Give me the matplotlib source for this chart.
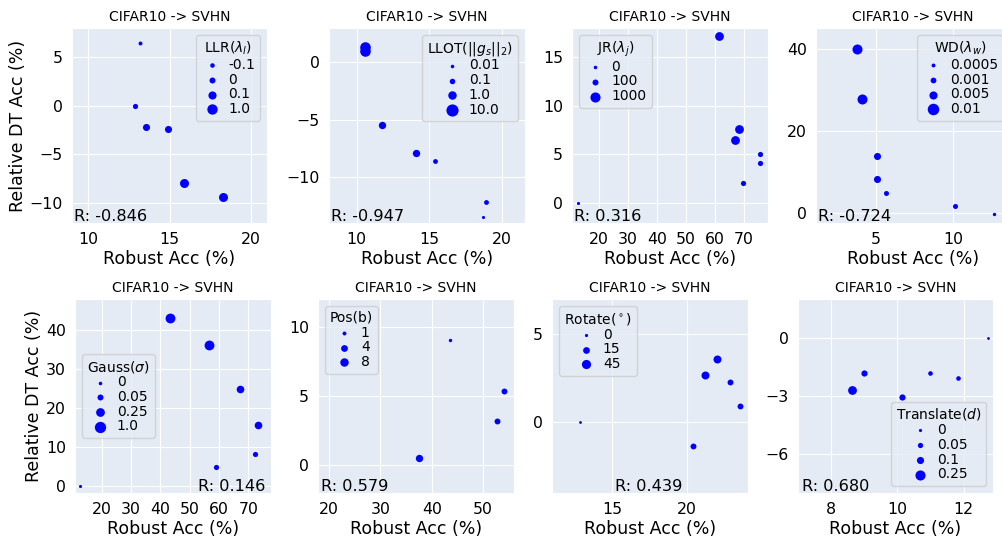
import matplotlib
matplotlib.use("Agg")
import matplotlib.pyplot as plt
import seaborn as sns

sns.set_style("darkgrid", {"axes.facecolor": "#E5EBF5"})
plt.rcParams["font.family"] = ["DejaVu Sans"]
plt.rcParams["text.color"] = "black"
plt.rcParams["axes.labelcolor"] = "black"
plt.rcParams["xtick.color"] = "black"
plt.rcParams["ytick.color"] = "black"

TITLE = "CIFAR10 -> SVHN"
XLABEL = "Robust Acc (%)"
YLABEL = "Relative DT Acc (%)"

# ─── data ──────────────────────────────────────────────────────────────────
LLR_X = [13.17, 12.85, 13.56, 14.93, 15.91, 18.30]
LLR_Y = [6.46, 0.0, -2.16, -2.37, -7.97, -9.45]
LLR_V = [-0.1, 0, 0.1, 0.1, 1.0, 1.0]
LLR_LEVELS = [-0.1, 0, 0.1, 1.0]
LLR_LABELS = ["-0.1", "0", "0.1", "1.0"]

LLOT_X = [10.60, 10.60, 11.76, 14.07, 15.42, 18.90, 18.72]
LLOT_Y = [1.30, 1.00, -5.45, -7.87, -8.57, -12.20, -13.50]
LLOT_V = [10.0, 10.0, 1.0, 1.0, 0.1, 0.1, 0.01]
LLOT_LEVELS = [0.01, 0.1, 1.0, 10.0]
LLOT_LABELS = ["0.01", "0.1", "1.0", "10.0"]

JR_X = [12.9, 61.3, 67.0, 68.3, 69.7, 75.5, 75.5]
JR_Y = [0.0, 17.13, 6.49, 7.59, 2.03, 4.98, 4.05]
JR_V = [0, 1000, 1000, 1000, 100, 100, 100]
JR_LEVELS = [0, 100, 1000]
JR_LABELS = ["0", "100", "1000"]

WD_X = [3.74, 4.11, 5.04, 5.07, 5.61, 10.15, 12.65]
WD_Y = [40.0, 27.75, 13.96, 8.24, 4.90, 1.71, -0.24]
WD_V = [0.01, 0.01, 0.005, 0.005, 0.001, 0.001, 0.0005]
WD_LEVELS = [0.0005, 0.001, 0.005, 0.01]
WD_LABELS = ["0.0005", "0.001", "0.005", "0.01"]

GAUSS_X = [12.6, 43.2, 56.7, 67.0, 73.4, 72.3, 58.9]
GAUSS_Y = [0.0, 43.09, 36.3, 24.8, 15.6, 8.15, 4.7]
GAUSS_V = [0, 1.0, 1.0, 0.25, 0.25, 0.05, 0.05]
GAUSS_LEVELS = [0, 0.05, 0.25, 1.0]
GAUSS_LABELS = ["0", "0.05", "0.25", "1.0"]

POS_X = [43.6, 54.0, 52.6, 37.6]
POS_Y = [9.06, 5.38, 3.17, 0.55]
POS_V = [1, 4, 4, 8]
POS_LEVELS = [1, 4, 8]
POS_LABELS = ["1", "4", "8"]

ROT_X = [12.84, 20.42, 21.20, 22.00, 22.90, 23.56]
ROT_Y = [0.0, -1.35, 2.71, 3.59, 2.31, 0.92]
ROT_V = [0, 15, 45, 45, 15, 15]
ROT_LEVELS = [0, 15, 45]
ROT_LABELS = ["0", "15", "45"]

TR_X = [12.73, 11.83, 10.98, 10.15, 9.00, 8.64]
TR_Y = [0.0, -2.09, -1.81, -3.03, -1.81, -2.67]
TR_V = [0, 0.05, 0.05, 0.1, 0.1, 0.25]
TR_LEVELS = [0, 0.05, 0.1, 0.25]
TR_LABELS = ["0", "0.05", "0.1", "0.25"]

R_VALUES = ["-0.846", "-0.947", "0.316", "-0.724", "0.146", "0.579", "0.439", "0.680"]

COLOR_PT = "#0000ff"
W, H = 1002, 538


def px_axes(fig, left, top, right, bottom):
    return fig.add_axes([left / W, (H - bottom) / H, (right - left) / W, (bottom - top) / H])


def draw_panel(ax, xs, ys, vals, levels, labels, areas, leg_title, leg_loc,
               r_text, r_pos, xlim, ylim, xticks, yticks, ylabel=False):
    for lv, lab, a in zip(levels, labels, areas):
        px = [x for x, v in zip(xs, vals) if v == lv]
        py = [y for y, v in zip(ys, vals) if v == lv]
        ax.scatter(px, py, s=a, color=COLOR_PT, linewidths=0, label=lab, zorder=3)
    ax.set_xlim(*xlim); ax.set_ylim(*ylim)
    ax.set_xticks(xticks); ax.set_yticks(yticks)
    ax.tick_params(labelsize=11.3, pad=3)
    ax.set_title(TITLE, fontsize=10, pad=5)
    ax.set_xlabel(XLABEL, fontsize=12.5, labelpad=2)
    if ylabel:
        ax.set_ylabel(YLABEL, fontsize=12.5, labelpad=2)
    leg = ax.legend(title=leg_title, loc=leg_loc, fontsize=10, title_fontsize=10,
                    labelspacing=0.05, handlelength=1.6, handletextpad=0.4,
                    borderpad=0.35, borderaxespad=0.5, markerscale=1.15)
    leg.set_zorder(5)
    ax.text(r_pos[0], r_pos[1], "R: " + r_text, transform=ax.transAxes,
            ha="left", va="baseline", fontsize=11.6, zorder=4)


fig = plt.figure(figsize=(W / 100, H / 100), dpi=100)

# ─── row 1 ────────────────────────────────────────────────────────────────
ax = px_axes(fig, 72, 28, 267, 223)
draw_panel(ax, LLR_X, LLR_Y, LLR_V, LLR_LEVELS, LLR_LABELS, [8, 14, 26, 42],
           r"LLR($\lambda_l$)", "upper right", R_VALUES[0], (0.012, 0.012),
           (9, 21), (-12.1, 8.0), [10, 15, 20], [-10, -5, 0, 5], ylabel=True)

ax = px_axes(fig, 329, 28, 525, 223)
draw_panel(ax, LLOT_X, LLOT_Y, LLOT_V, LLOT_LEVELS, LLOT_LABELS, [5, 12, 28, 58],
           r"LLOT($||g_s||_2$)", "upper right", R_VALUES[1], (0.012, 0.012),
           (8.1, 21.6), (-14.0, 3.0), [10, 15, 20], [-10, -5, 0])

ax = px_axes(fig, 572, 28, 768, 223)
draw_panel(ax, JR_X, JR_Y, JR_V, JR_LEVELS, JR_LABELS, [5, 14, 40],
           r"JR($\lambda_j$)", "upper left", R_VALUES[2], (0.012, 0.012),
           (10.8, 78.2), (-2.1, 18.0), [20, 30, 40, 50, 60, 70], [0, 5, 10, 15])

ax = px_axes(fig, 816, 28, 1010, 223)
draw_panel(ax, WD_X, WD_Y, WD_V, WD_LEVELS, WD_LABELS, [6, 13, 26, 52],
           r"WD($\lambda_w$)", "upper right", R_VALUES[3], (0.012, 0.012),
           (1.09, 13.7), (-2.45, 45.2), [5, 10], [0, 20, 40])

# ─── row 2 ────────────────────────────────────────────────────────────────
ax = px_axes(fig, 75, 299, 271, 493)
draw_panel(ax, GAUSS_X, GAUSS_Y, GAUSS_V, GAUSS_LEVELS, GAUSS_LABELS, [5, 14, 30, 50],
           r"Gauss($\sigma$)", "center left", R_VALUES[4], (0.628, 0.012),
           (10.9, 77.7), (-1.9, 48.1), [20, 30, 40, 50, 60, 70], [0, 10, 20, 30, 40],
           ylabel=True)

ax = px_axes(fig, 318, 299, 514, 493)
draw_panel(ax, POS_X, POS_Y, POS_V, POS_LEVELS, POS_LABELS, [6, 18, 28],
           "Pos(b)", "upper left", R_VALUES[5], (0.015, 0.012),
           (17.9, 56.0), (-2.0, 12.0), [20, 30, 40, 50], [0, 5, 10])

ax = px_axes(fig, 552, 299, 748, 493)
draw_panel(ax, ROT_X, ROT_Y, ROT_V, ROT_LEVELS, ROT_LABELS, [4, 18, 33],
           r"Rotate($^\circ$)", "upper left", R_VALUES[6], (0.32, 0.012),
           (11.0, 24.1), (-4.0, 7.0), [15, 20], [0, 5])

ax = px_axes(fig, 798, 299, 993, 493)
draw_panel(ax, TR_X, TR_Y, TR_V, TR_LEVELS, TR_LABELS, [4, 11, 20, 40],
           r"Translate($d$)", "lower right", R_VALUES[7], (0.022, 0.012),
           (7.02, 12.88), (-8.0, 2.0), [8, 10, 12], [-6, -3, 0])

fig.savefig("out.png", dpi=100)
